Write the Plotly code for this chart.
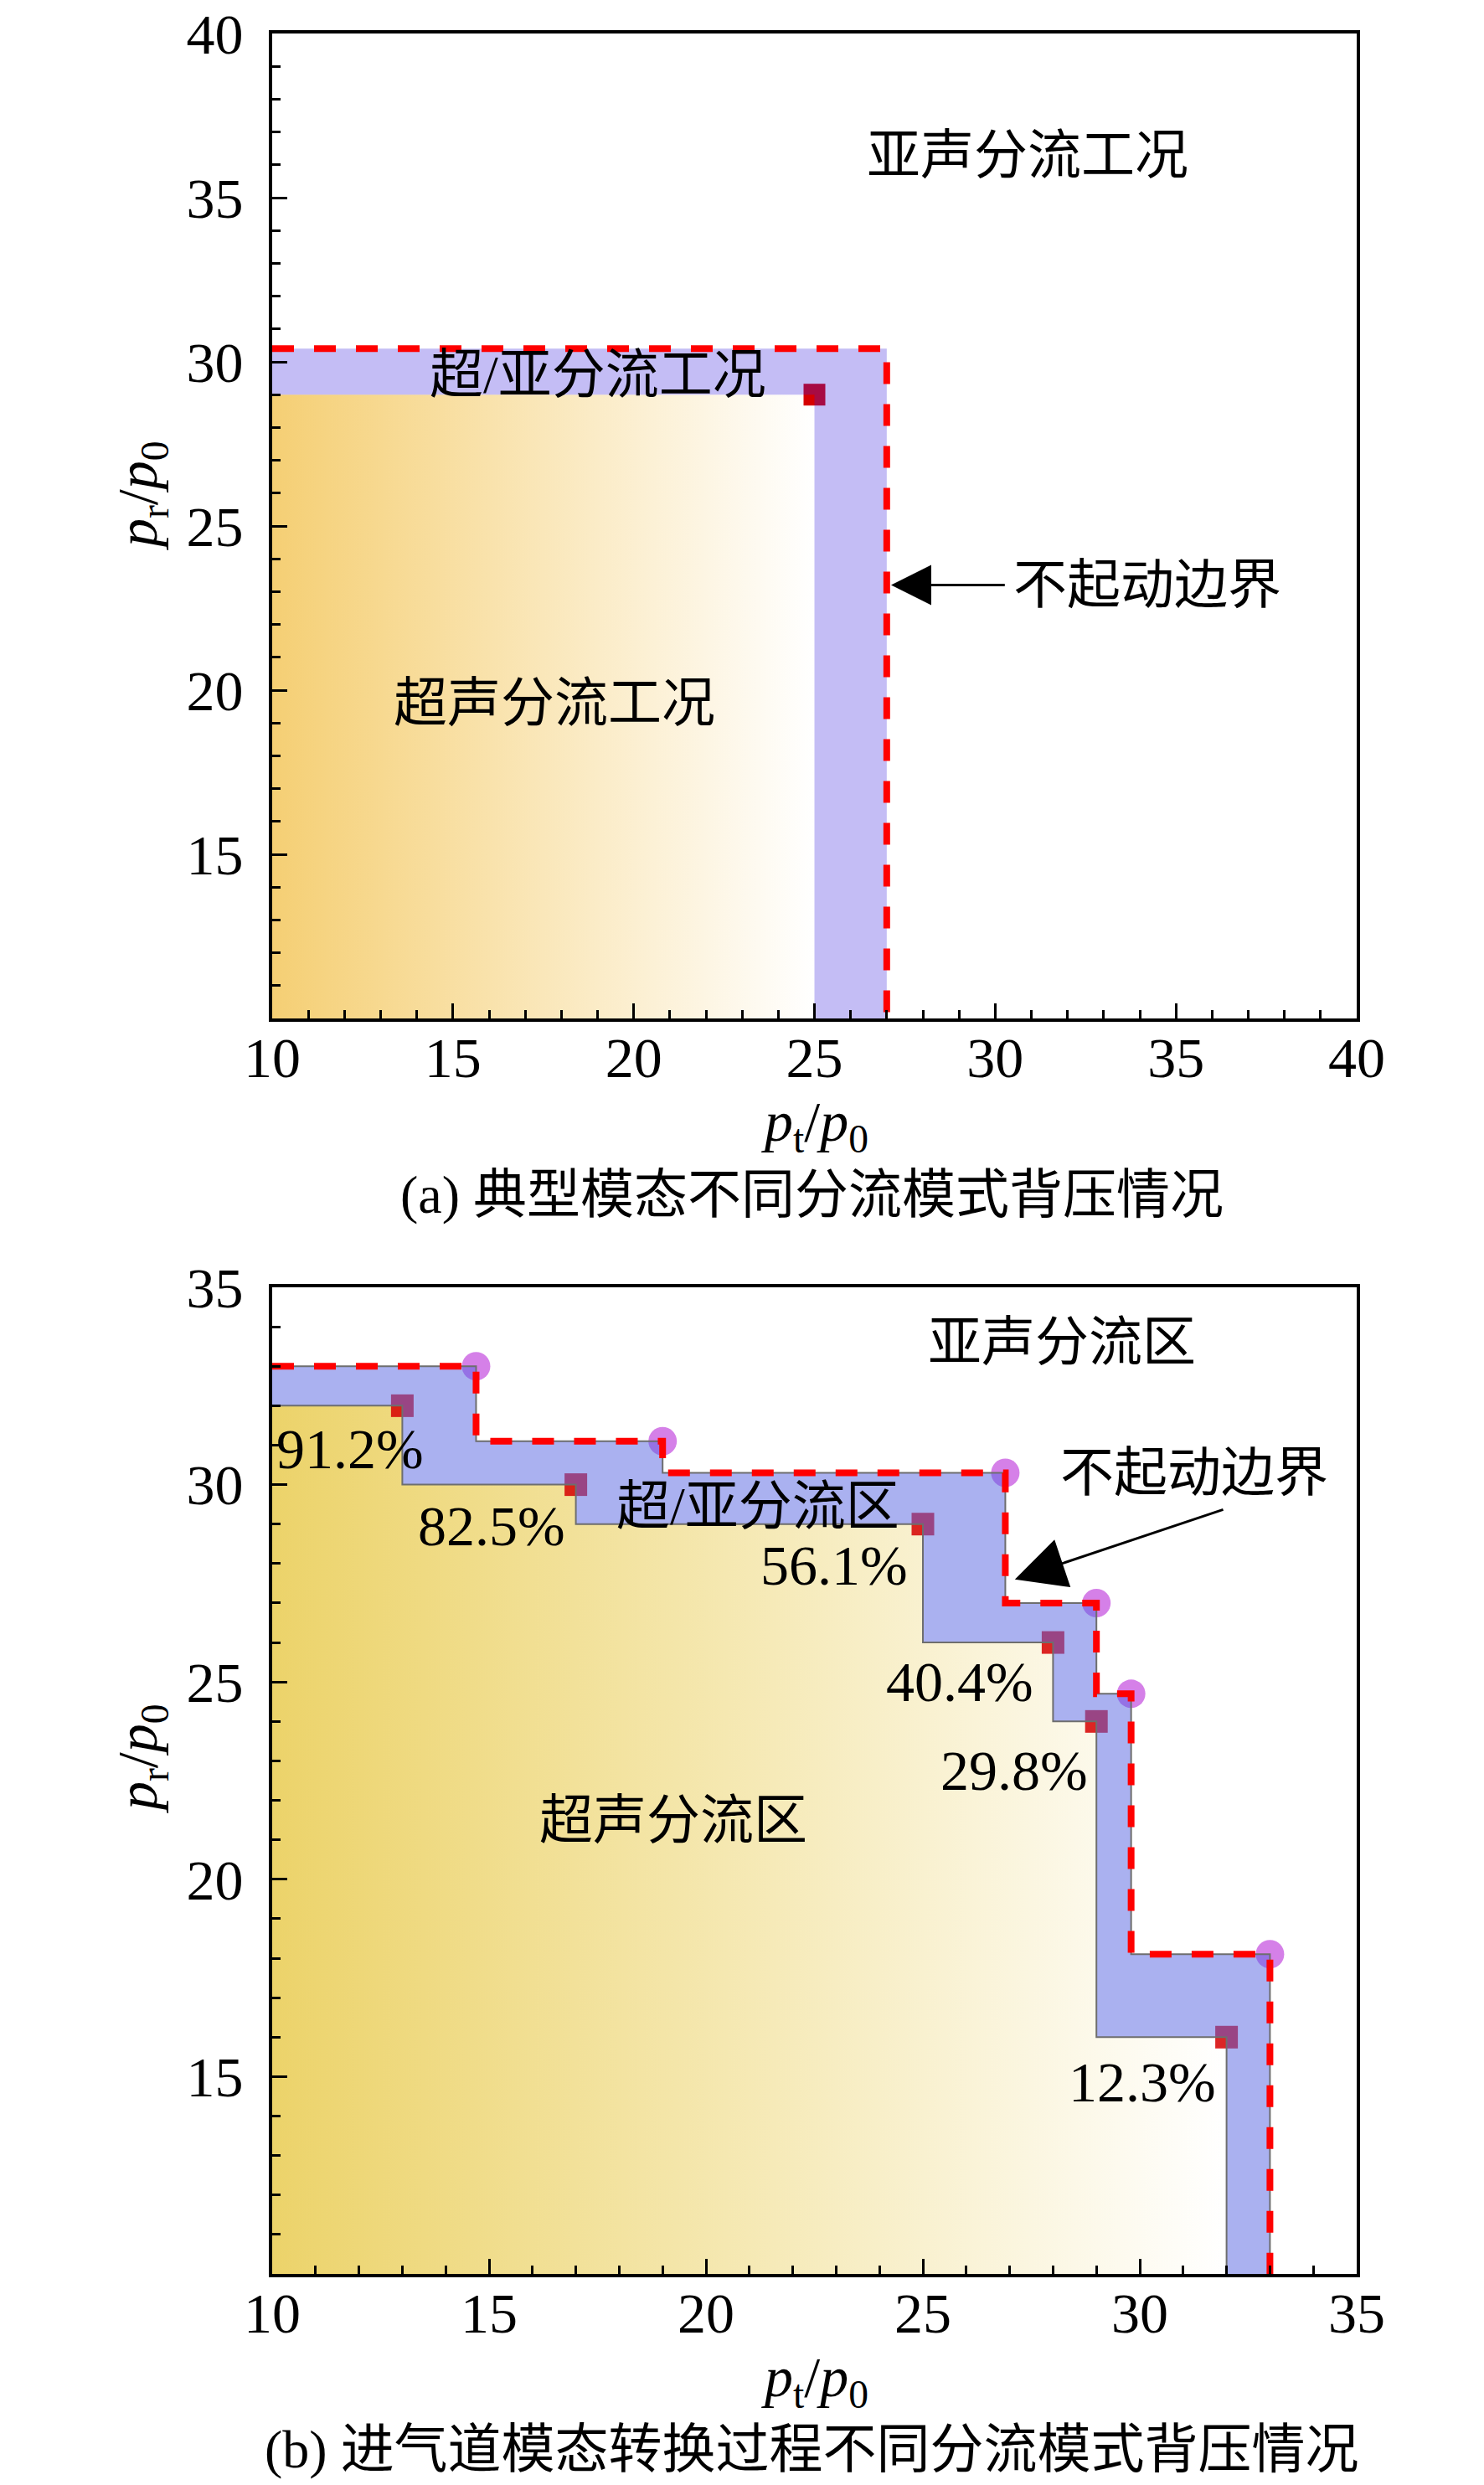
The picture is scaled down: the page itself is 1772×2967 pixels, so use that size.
import plotly.graph_objects as go

# ---------------- data: (a) typical mode ----------------
a_inner_x = [10, 25, 25]          # supersonic region edge
a_inner_y = [29, 29, 10]
a_outer_x = [10, 27, 27]          # unstart boundary
a_outer_y = [30.4, 30.4, 10]
a_point_x = [25]
a_point_y = [29]

# ---------------- data: (b) mode transition ----------------
b_sq_x = [13, 17, 25, 28, 29, 32]           # supersonic corners
b_sq_y = [32, 30, 29, 26, 24, 16]
b_dot_x = [14.7, 19, 26.9, 29, 29.8, 33]    # unstart corners
b_dot_y = [33, 31.1, 30.3, 27, 24.7, 18.1]
b_pct = ["91.2%", "82.5%", "56.1%", "40.4%", "29.8%", "12.3%"]
b_pct_x = [11.8, 15.05, 22.95, 25.85, 27.1, 30.05]
b_pct_y = [30.9, 28.95, 27.95, 25.0, 22.75, 14.85]


def steps(xs, ys, x0, y_end):
    px, py = [x0], [ys[0]]
    for i in range(len(xs)):
        nxt = ys[i + 1] if i + 1 < len(ys) else y_end
        px += [xs[i], xs[i]]
        py += [ys[i], nxt]
    return px, py


b_in_x, b_in_y = steps(b_sq_x, b_sq_y, 10, 10)
b_out_x, b_out_y = steps(b_dot_x, b_dot_y, 10, 10)

W, H = 1772, 2967
SERIF = "Liberation Serif, Times New Roman, Noto Sans CJK SC"
FS = 64      # chinese text
FN = 68      # numbers
RED_DASH = dict(color="#ff0000", width=8, dash="26px,24px")

fig = go.Figure()

# ---------- (a) ----------
fig.add_trace(go.Scatter(
    x=a_inner_x + [10], y=a_inner_y + [10], mode="lines", fill="toself",
    line=dict(width=0),
    fillgradient=dict(type="horizontal", start=10, stop=25,
                      colorscale=[[0, "rgb(245,207,116)"], [1, "rgb(255,255,255)"]]),
    xaxis="x", yaxis="y", hoverinfo="skip"))
fig.add_trace(go.Scatter(
    x=a_point_x, y=a_point_y, mode="markers",
    marker=dict(symbol="square", size=26, color="rgb(214,0,0)"),
    xaxis="x", yaxis="y"))
fig.add_trace(go.Scatter(
    x=a_inner_x + a_outer_x[::-1], y=a_inner_y + a_outer_y[::-1],
    mode="lines", fill="toself", line=dict(width=0),
    fillcolor="rgba(58,35,222,0.3)", xaxis="x", yaxis="y", hoverinfo="skip"))
fig.add_trace(go.Scatter(
    x=a_outer_x, y=a_outer_y, mode="lines", line=RED_DASH,
    xaxis="x", yaxis="y"))

# ---------- (b) ----------
fig.add_trace(go.Scatter(
    x=b_in_x + [10], y=b_in_y + [10], mode="lines", fill="toself",
    line=dict(width=0),
    fillgradient=dict(type="horizontal", start=10, stop=32,
                      colorscale=[[0, "rgb(236,211,106)"], [1, "rgb(255,255,255)"]]),
    xaxis="x2", yaxis="y2", hoverinfo="skip"))
fig.add_trace(go.Scatter(
    x=b_sq_x, y=b_sq_y, mode="markers",
    marker=dict(symbol="square", size=27, color="rgb(214,0,0)", opacity=0.85),
    xaxis="x2", yaxis="y2"))
fig.add_trace(go.Scatter(
    x=b_dot_x, y=b_dot_y, mode="markers",
    marker=dict(symbol="circle", size=34, color="rgb(213,128,232)"),
    xaxis="x2", yaxis="y2"))
fig.add_trace(go.Scatter(
    x=b_in_x + b_out_x[::-1], y=b_in_y + b_out_y[::-1],
    mode="lines", fill="toself", line=dict(width=0),
    fillcolor="rgba(85,100,225,0.5)", xaxis="x2", yaxis="y2", hoverinfo="skip"))
for sx, sy in [(b_in_x, b_in_y), (b_out_x, b_out_y)]:
    fig.add_trace(go.Scatter(
        x=sx, y=sy, mode="lines", line=dict(color="rgb(110,110,110)", width=2),
        xaxis="x2", yaxis="y2"))
fig.add_trace(go.Scatter(
    x=b_out_x, y=b_out_y, mode="lines", line=RED_DASH,
    xaxis="x2", yaxis="y2"))

# ---------- axes ----------
def axis(rng, vals, dom, anchor, standoff):
    return dict(
        range=rng, domain=dom, anchor=anchor, tickvals=vals,
        showline=True, linecolor="black", linewidth=4, mirror=True,
        ticks="inside", ticklen=18, tickwidth=3, tickcolor="black",
        minor=dict(dtick=1, ticks="inside", ticklen=10, tickwidth=3, tickcolor="black"),
        showgrid=False, zeroline=False, ticklabelstandoff=standoff,
        automargin=False, ticklabeloverflow="allow",
        tickfont=dict(family=SERIF, size=FN, color="black"))

xd = [317 / W, 1612 / W]
fig.update_layout(
    xaxis=axis([10, 40], [10, 15, 20, 25, 30, 35, 40], xd, "y", -16),
    yaxis=axis([10, 40], [15, 20, 25, 30, 35, 40], [1 - 1208 / H, 1 - 32 / H], "x", 17),
    xaxis2=axis([10, 35], [10, 15, 20, 25, 30, 35], xd, "y2", -16),
    yaxis2=axis([10, 35], [15, 20, 25, 30, 35], [1 - 2707 / H, 1 - 1529 / H], "x2", 17),
)

ann = []


def txt(x, y, s, xr="x", yr="y", size=FS, **kw):
    ann.append(dict(x=x, y=y, xref=xr, yref=yr, text=s, showarrow=False,
                    xanchor="center", yanchor="middle",
                    font=dict(family=SERIF, size=size, color="black"), **kw))


# (a) labels
txt(30.9, 36.3, "亚声分流工况")
txt(19.0, 29.6, "超/亚分流工况")
txt(17.8, 19.6, "超声分流工况")
txt(34.2, 23.2, "不起动边界")
ann.append(dict(x=27.12, y=23.2, ax=30.3, ay=23.2, xref="x", yref="y",
                axref="x", ayref="y", showarrow=True, arrowhead=2,
                arrowsize=3.2, arrowwidth=3, arrowcolor="black", text=""))
# (b) labels
txt(28.2, 33.6, "亚声分流区", "x2", "y2")
txt(21.2, 29.45, "超/亚分流区", "x2", "y2")
txt(19.25, 21.5, "超声分流区", "x2", "y2")
txt(31.25, 30.3, "不起动边界", "x2", "y2")
for s, px, py in zip(b_pct, b_pct_x, b_pct_y):
    txt(px, py, s, "x2", "y2", size=FN)
ann.append(dict(x=27.12, y=27.6, ax=31.95, ay=29.38, xref="x2", yref="y2",
                axref="x2", ayref="y2", showarrow=True, arrowhead=2,
                arrowsize=4, arrowwidth=3, arrowcolor="black", text=""))

# axis titles and captions
AX_T = "<i>p</i><sub>t</sub>/<i>p</i><sub>0</sub>"
AY_T = "<i>p</i><sub>r</sub>/<i>p</i><sub>0</sub>"
txt(965 / W, 1 - 1336 / H, AX_T, "paper", "paper", size=FN)
txt(160 / W, 1 - 584 / H, AY_T, "paper", "paper", size=FN, textangle=-90)
txt(961 / W, 1 - 1418 / H, "(a) 典型模态不同分流模式背压情况", "paper", "paper")
txt(965 / W, 1 - 2834 / H, AX_T, "paper", "paper", size=FN)
txt(160 / W, 1 - 2092 / H, AY_T, "paper", "paper", size=FN, textangle=-90)
txt(961 / W, 1 - 2916 / H, "(b) 进气道模态转换过程不同分流模式背压情况", "paper", "paper")

fig.update_layout(
    annotations=ann, width=W, height=H, showlegend=False,
    margin=dict(l=0, r=0, t=0, b=0, autoexpand=False),
    paper_bgcolor="white", plot_bgcolor="white",
)

fig.write_html("out.html")
